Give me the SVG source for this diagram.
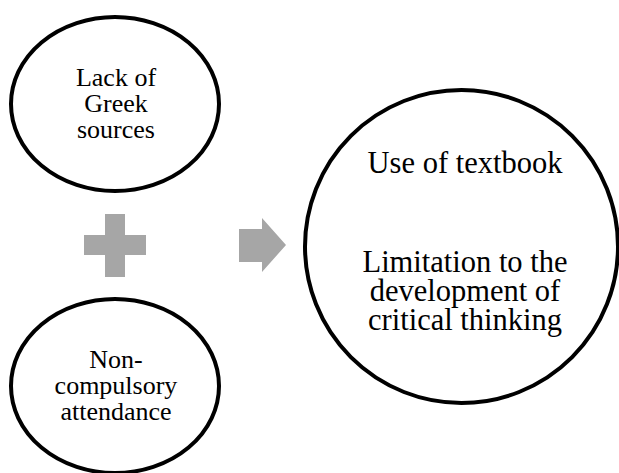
<svg xmlns="http://www.w3.org/2000/svg" width="619" height="473" viewBox="0 0 619 473">
<style>
.node{fill:#fff;stroke:#000;stroke-width:4}
.sm{font-family:"Liberation Serif","Times New Roman",serif;font-size:26px;fill:#000;text-anchor:middle}
.lg{font-family:"Liberation Serif","Times New Roman",serif;font-size:30.5px;fill:#000;text-anchor:middle}
.op{fill:#a6a6a6}
</style>
<rect width="619" height="473" fill="#fff"/>
<g id="connectors">
<path class="op" d="M105 214H125V235H146V255H125V277H105V255H84V235H105Z"/>
<path class="op" d="M239 229H262V218L286 245L262 272V262H239Z"/>
</g>
<g id="node-lack">
<ellipse class="node" cx="115" cy="104" rx="104" ry="87"/>
<text class="sm" x="116" y="86">Lack of</text>
<text class="sm" x="116" y="112">Greek</text>
<text class="sm" x="116" y="138">sources</text>
</g>
<g id="node-attendance">
<ellipse class="node" cx="115" cy="386" rx="104" ry="87"/>
<text class="sm" x="116" y="368">Non-</text>
<text class="sm" x="116" y="394">compulsory</text>
<text class="sm" x="116" y="420">attendance</text>
</g>
<g id="node-result">
<ellipse class="node" cx="461.5" cy="246.5" rx="156.5" ry="156.5"/>
<text class="lg" x="465" y="173">Use of textbook</text>
<text class="lg" x="465" y="272">Limitation to the</text>
<text class="lg" x="465" y="301">development of</text>
<text class="lg" x="465" y="330">critical thinking</text>
</g>
</svg>
